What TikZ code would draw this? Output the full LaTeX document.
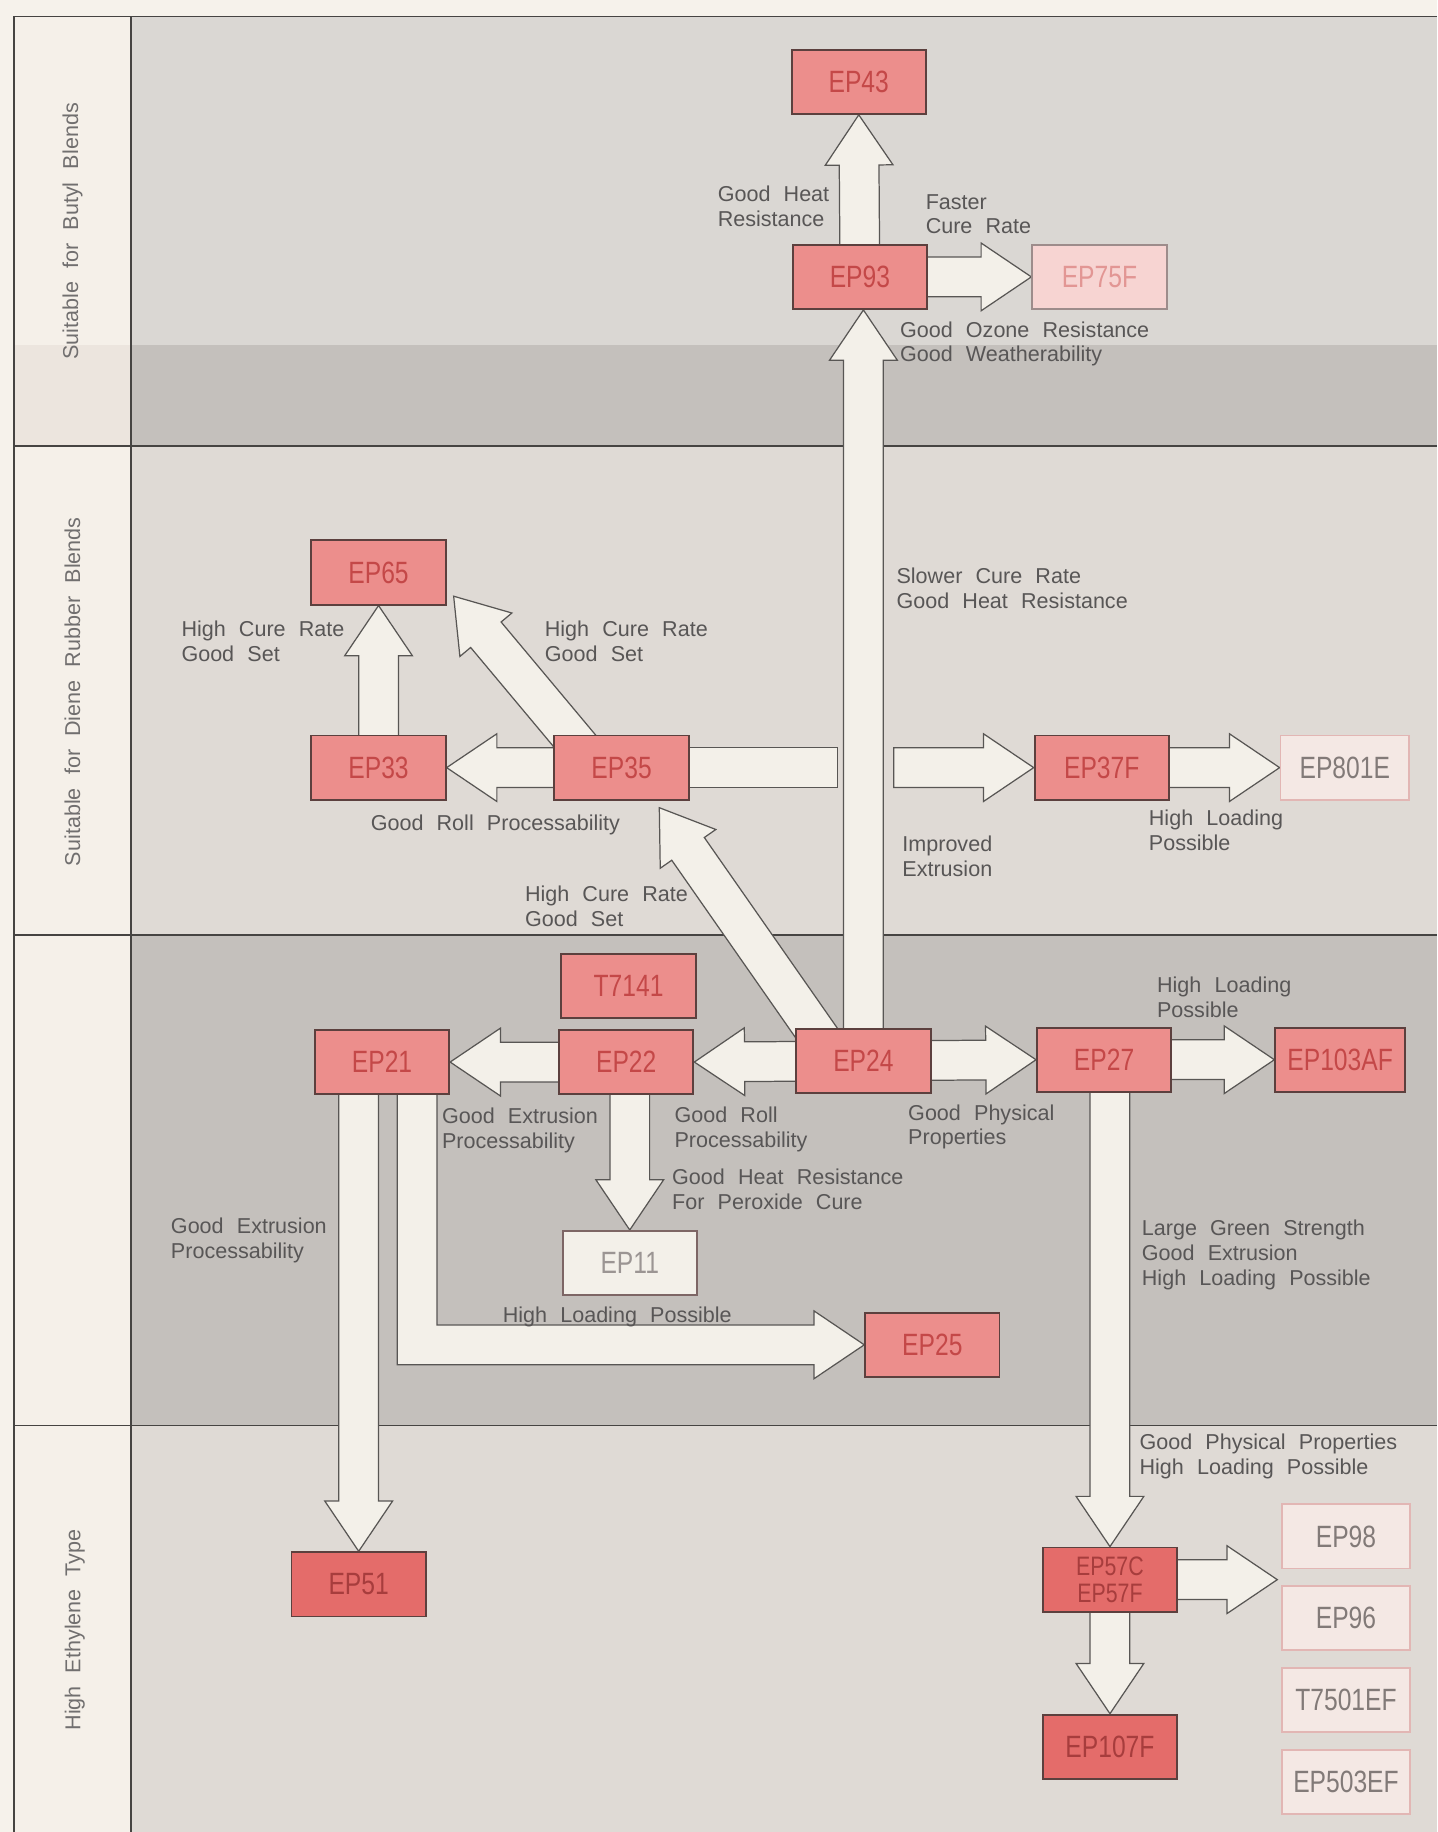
\documentclass[tikz,border=0pt]{standalone}
\usepackage{fontspec}
\setmainfont{Liberation Sans}
\newfontfamily\boxfont{Liberation Sans}[FakeStretch=0.8]
\newfontfamily\lblfont{Liberation Sans}[WordSpace=2.2]
\usepackage{tikz}
\usetikzlibrary{calc,backgrounds,positioning}
\usepackage{xcolor}
\definecolor{papercol}{RGB}{246,242,235}
\definecolor{sidecol}{RGB}{245,240,233}
\definecolor{sidedark}{RGB}{236,229,222}
\definecolor{bandtop}{RGB}{218,215,211}
\definecolor{bandlight}{RGB}{223,218,213}
\definecolor{banddark}{RGB}{196,192,188}
\definecolor{rulecol}{RGB}{70,68,66}
\definecolor{pinkfill}{RGB}{236,142,140}
\definecolor{redfill}{RGB}{228,108,106}
\definecolor{pinktext}{RGB}{196,72,72}
\definecolor{boxline}{RGB}{92,64,62}
\definecolor{palefill}{RGB}{244,232,228}
\definecolor{paleline}{RGB}{226,182,180}
\definecolor{paletext}{RGB}{130,122,120}
\definecolor{rosefill}{RGB}{247,212,210}
\definecolor{rosetext}{RGB}{226,150,148}
\definecolor{arrfill}{RGB}{243,240,233}
\definecolor{arrline}{RGB}{88,86,84}
\definecolor{lblcol}{RGB}{88,86,86}

\pgfdeclarelayer{arrowlayer}
\pgfsetlayers{background,arrowlayer,main}

\def\shaftw{0.34cm}
\def\headw{0.58cm}
\def\headlen{0.86cm}
\newcommand{\fatarrow}[2]{%
  \coordinate (fa-base) at ($(#2)!\headlen!(#1)$);
  \draw[fatarr] ($(#1)!\shaftw!90:(#2)$) -- ($(fa-base)!\shaftw!90:(#2)$)
    -- ($(fa-base)!\headw!90:(#2)$) -- (#2) -- ($(fa-base)!\headw!-90:(#2)$)
    -- ($(fa-base)!\shaftw!-90:(#2)$) -- ($(#1)!\shaftw!-90:(#2)$) -- cycle;}

\begin{document}
\begin{tikzpicture}[x=0.02cm, y=-0.02cm,
  box/.style={draw=boxline, fill=pinkfill, text=pinktext, line width=0.9pt,
    minimum width=2.3cm, minimum height=1.1cm, inner sep=0pt,
    font=\boxfont\fontsize{15}{15}\selectfont},
  redbox/.style={box, fill=redfill, text=pinktext!85!black},
  palebox/.style={box, draw=paleline, fill=palefill, text=paletext, minimum width=2.2cm},
  fatarr/.style={draw=arrline, fill=arrfill, line width=0.6pt, line join=miter},
  lbl/.style={font=\lblfont\fontsize{10.5}{12}\selectfont, text=lblcol, align=left,
    anchor=north west, inner sep=0pt},
  sidelbl/.style={font=\lblfont\fontsize{10.5}{12}\selectfont, text=lblcol!85, rotate=90},
  rule/.style={draw=rulecol, line width=0.8pt}]
\useasboundingbox (0,0) rectangle (1230,1568);

% bands
\begin{scope}[on background layer]
\fill[papercol] (0,0) rectangle (1230,1568);
\fill[sidecol] (12,14) rectangle (112,1568);
\fill[sidedark] (12,295) rectangle (112,382);
\fill[bandtop] (112,14) rectangle (1230,295);
\fill[banddark] (112,295) rectangle (1230,382);
\fill[bandlight] (112,382) rectangle (1230,800);
\fill[banddark] (112,800) rectangle (1230,1220);
\fill[bandlight] (112,1220) rectangle (1230,1568);
\draw[rule] (1230,14) -- (12,14) -- (12,1568);
\draw[rule] (112,14) -- (112,1568);
\foreach \yy in {382,800,1220} \draw[rule] (12,\yy) -- (1230,\yy);
\end{scope}

\node[sidelbl] (side-butyl) at (62,198) {Suitable for Butyl Blends};
\node[sidelbl] (side-diene) at (62,592) {Suitable for Diene Rubber Blends};
\node[sidelbl] (side-ethyl) at (64,1395) {High Ethylene Type};

% grades
\node[box] (EP43) at (735,70) {EP43};
\node[box] (EP93) at (736,237) {EP93};
\node[box, fill=rosefill, text=rosetext, draw=boxline!60] (EP75F) at (941,237) {EP75F};
\node[box] (EP65) at (324,490) {EP65};
\node[box] (EP33) at (324,657) {EP33};
\node[box] (EP35) at (532,657) {EP35};
\node[box] (EP37F) at (943,657) {EP37F};
\node[palebox] (EP801E) at (1151,657) {EP801E};
\node[box] (T7141) at (538,844) {T7141};
\node[box] (EP21) at (327,909) {EP21};
\node[box] (EP22) at (536,909) {EP22};
\node[box] (EP24) at (739,908) {EP24};
\node[box] (EP27) at (945,907) {EP27};
\node[box, minimum width=2.22cm] (EP103AF) at (1147,907) {EP103AF};
\node[box, fill=arrfill, draw=boxline!80, text=paletext!80] (EP11) at (539,1081) {EP11};
\node[box] (EP25) at (798,1151) {EP25};
\node[redbox] (EP51) at (307,1356) {EP51};
\node[redbox, align=center, font=\boxfont\fontsize{13}{13}\selectfont] (EP57) at (950,1352) {EP57C\\EP57F};
\node[redbox] (EP107F) at (950,1495) {EP107F};
\node[palebox] (EP98) at (1152,1315) {EP98};
\node[palebox] (EP96) at (1152,1385) {EP96};
\node[palebox] (T7501EF) at (1152,1455) {T7501EF};
\node[palebox] (EP503EF) at (1152,1525) {EP503EF};

% block arrows
\begin{pgfonlayer}{arrowlayer}
\coordinate (t93) at (EP24.center |- EP93.south);
\fatarrow{EP24.center}{t93}
\fatarrow{EP93.center}{EP43.south}
\fatarrow{EP93.center}{EP75F.west}
\fatarrow{EP33.center}{EP65.south}
\fatarrow{EP35.center}{EP33.east}
\coordinate (d1s) at ($(EP35.north west)+(32,22)$);
\coordinate (d1t) at ($(EP65.south east)+(6,-8)$);
\fatarrow{d1s}{d1t}
\coordinate (d2s) at ($(EP24.north west)+(29,20)$);
\coordinate (d2t) at ($(EP35.south east)+(-26,6)$);
\fatarrow{d2s}{d2t}
\coordinate (cut-l) at ($(EP24.center |- EP35.center)+(-22,0)$);
\coordinate (cut-r) at ($(EP24.center |- EP35.center)+(26,0)$);
\draw[fatarr] ($(EP35.center)+(0,-17)$) rectangle ($(cut-l)+(0,17)$);
\fatarrow{cut-r}{EP37F.west}
\fatarrow{EP37F.center}{EP801E.west}
\fatarrow{EP24.center}{EP22.east}
\fatarrow{EP22.center}{EP21.east}
\fatarrow{EP24.center}{EP27.west}
\fatarrow{EP27.center}{EP103AF.west}
\coordinate (s11) at (EP11.center |- EP22.center);
\fatarrow{s11}{EP11.north}
\coordinate (s51) at (EP51.center |- EP21.center);
\fatarrow{s51}{EP51.north}
\coordinate (elb) at ($(EP21.center)+(30,0)$);
\draw[fatarr] ($(elb)+(-17,0)$) |- ($(EP25.west)+(-43,17)$) -- ++(0,12)
  -- (EP25.west) -- ++(-43,-29) -- ++(0,12) -| ($(elb)+(17,0)$) -- cycle;
\coordinate (s57) at (EP57.center |- EP27.center);
\fatarrow{s57}{EP57.north}
\fatarrow{EP57.center}{EP107F.north}
\coordinate (grp) at ($(EP57.center -| EP98.west)+(-3,0)$);
\fatarrow{EP57.center}{grp}
\end{pgfonlayer}

% labels
\node[lbl] (lbl-heat) at (614,159) {Good Heat\\Resistance};
\node[lbl] (lbl-faster) at (792,166) {Faster\\Cure Rate};
\node[lbl] (lbl-ozone) at (770,275) {Good Ozone Resistance\\Good Weatherability};
\node[lbl] (lbl-slower) at (767,486) {Slower Cure Rate\\Good Heat Resistance};
\node[lbl] (lbl-cure-a) at (155,531) {High Cure Rate\\Good Set};
\node[lbl] (lbl-cure-b) at (466,531) {High Cure Rate\\Good Set};
\node[lbl] (lbl-roll-a) at (317,697) {Good Roll Processability};
\node[lbl] (lbl-improved) at (772,715) {Improved\\Extrusion};
\node[lbl] (lbl-load-a) at (983,693) {High Loading\\Possible};
\node[lbl] (lbl-cure-c) at (449,758) {High Cure Rate\\Good Set};
\node[lbl] (lbl-load-b) at (990,836) {High Loading\\Possible};
\node[lbl] (lbl-extr-a) at (378,948) {Good Extrusion\\Processability};
\node[lbl] (lbl-roll-b) at (577,947) {Good Roll\\Processability};
\node[lbl] (lbl-phys-a) at (777,945) {Good Physical\\Properties};
\node[lbl] (lbl-perox) at (575,1000) {Good Heat Resistance\\For Peroxide Cure};
\node[lbl] (lbl-extr-b) at (146,1042) {Good Extrusion\\Processability};
\node[lbl] (lbl-load-c) at (430,1118) {High Loading Possible};
\node[lbl] (lbl-green) at (977,1044) {Large Green Strength\\Good Extrusion\\High Loading Possible};
\node[lbl] (lbl-phys-b) at (975,1227) {Good Physical Properties\\High Loading Possible};
\end{tikzpicture}
\end{document}
